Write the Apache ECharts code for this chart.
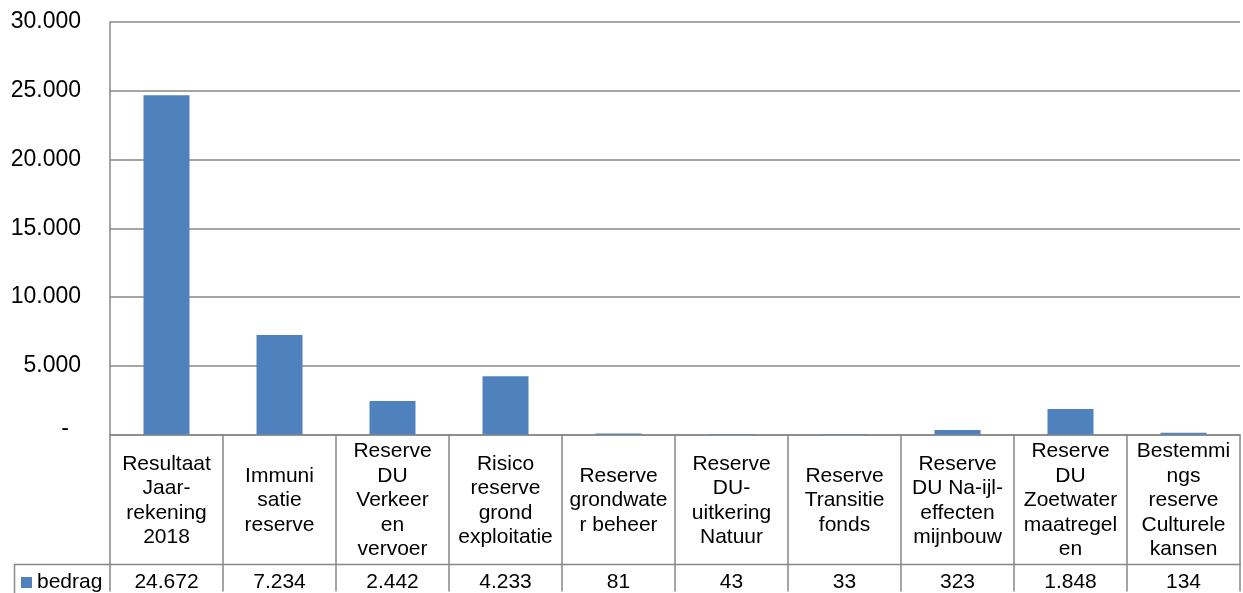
<!DOCTYPE html>
<html>
<head>
<meta charset="utf-8">
<script src="https://cdn.jsdelivr.net/npm/echarts@6/dist/echarts.min.js"></script>
<style>
html,body{margin:0;padding:0;background:#fff;}
#chart{width:1243px;height:593px;}
</style>
</head>
<body>
<div id="chart"></div>
<script>
var categories = [
  "Resultaat\nJaar-\nrekening\n2018",
  "Immuni\nsatie\nreserve",
  "Reserve\nDU\nVerkeer\nen\nvervoer",
  "Risico\nreserve\ngrond\nexploitatie",
  "Reserve\ngrondwate\nr beheer",
  "Reserve\nDU-\nuitkering\nNatuur",
  "Reserve\nTransitie\nfonds",
  "Reserve\nDU Na-ijl-\neffecten\nmijnbouw",
  "Reserve\nDU\nZoetwater\nmaatregel\nen",
  "Bestemmi\nngs\nreserve\nCulturele\nkansen"
];
var seriesName = "bedrag";
var values = [24672, 7234, 2442, 4233, 81, 43, 33, 323, 1848, 134];
var yTicks = { min: 0, max: 30000, interval: 5000 };

function fmt(v) {
  return String(v).replace(/\B(?=(\d{3})+(?!\d))/g, ".");
}

var gridColor = "#878787";
var font = "'Liberation Sans', Arial, sans-serif";

var chart = echarts.init(document.getElementById("chart"), null, { renderer: "canvas" });
chart.setOption({
  animation: false,
  backgroundColor: "#ffffff",
  textStyle: { fontFamily: font, color: "#000" },
  grid: { left: 110, right: 3, top: 22, bottom: 157, containLabel: false },
  legend: {
    data: [seriesName],
    left: 21, top: 572, padding: 0,
    icon: "rect", itemWidth: 11, itemHeight: 11, itemGap: 4,
    textStyle: { fontSize: 21, fontFamily: font, color: "#000", padding: [0,0,0,0] }
  },
  xAxis: [
    {
      type: "category",
      data: categories,
      position: "bottom",
      boundaryGap: true,
      axisLine: { show: true, lineStyle: { color: gridColor, width: 1.5 } },
      axisTick: { show: true, interval: 0, alignWithLabel: false, length: 157, lineStyle: { color: gridColor, width: 1.5 } },
      axisLabel: {
        interval: 0, margin: 66, verticalAlign: "middle", align: "center",
        fontSize: 21, lineHeight: 24.5, color: "#000", fontFamily: font
      }
    },
    {
      type: "category",
      data: values.map(fmt),
      position: "bottom",
      offset: 0,
      boundaryGap: true,
      axisLine: { show: false },
      axisTick: { show: false },
      axisLabel: {
        interval: 0, margin: 148, verticalAlign: "middle", align: "center",
        fontSize: 21, color: "#000", fontFamily: font
      }
    }
  ],
  yAxis: {
    type: "value",
    min: yTicks.min, max: yTicks.max, interval: yTicks.interval,
    axisLine: { show: true, lineStyle: { color: gridColor, width: 1.5 } },
    axisTick: { show: false },
    splitLine: { show: true, lineStyle: { color: gridColor, width: 1.5 } },
    axisLabel: {
      margin: 29, fontSize: 23, color: "#000", fontFamily: font,
      formatter: function (v) { return v === 0 ? "{z|-}" : fmt(v); },
      rich: { z: { fontSize: 23, fontFamily: font, color: "#000", padding: [0, 12, 12, 0] } }
    }
  },
  graphic: [
    { type: "line", shape: { x1: 14, y1: 564.5, x2: 1241, y2: 564.5 }, style: { stroke: gridColor, lineWidth: 1.5 }, z: 10 },
    { type: "line", shape: { x1: 14.5, y1: 564, x2: 14.5, y2: 600 }, style: { stroke: gridColor, lineWidth: 1.5 }, z: 10 }
  ],
  series: [
    {
      name: seriesName,
      type: "bar",
      xAxisIndex: 0,
      data: values,
      barWidth: 46,
      itemStyle: { color: "#4F81BD" }
    }
  ]
});
</script>
</body>
</html>
